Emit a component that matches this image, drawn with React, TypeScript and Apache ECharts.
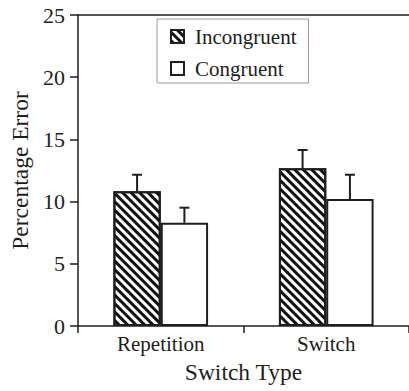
import React, { useEffect, useRef } from "react";
import * as echarts from "echarts";

const categories = ["Repetition", "Switch"];
const incongruent = [10.83, 12.68];
const incongruentErr = [12.16, 14.15];
const congruent = [8.3, 10.2];
const congruentErr = [9.51, 12.16];
const yTicks = [0, 25, 5];

const FONT = '"Liberation Serif"';
const INK = "#1e1e1e";

export default function App() {
  const ref = useRef<HTMLDivElement>(null);
  useEffect(() => {
    if (!ref.current) return;
    const chart = echarts.init(ref.current, null, { renderer: "svg" });
    const barFrac = 0.286;
    const errSeries = (vals: number[], tops: number[], side: number) => ({
      type: "custom",
      name: side < 0 ? "errI" : "errC",
      data: vals.map((v, i) => [i, v, tops[i]]),
      z: 5,
      silent: true,
      renderItem: (params: any, api: any) => {
        const i = api.value(0);
        const base = api.coord([i, api.value(1)]);
        const top = api.coord([i, api.value(2)]);
        const band = api.size([1, 0])[0];
        const x = base[0] + side * band * barFrac / 2;
        const cap = 5;
        const style = { stroke: INK, lineWidth: 2 };
        return {
          type: "group",
          children: [
            { type: "line", shape: { x1: x, y1: base[1], x2: x, y2: top[1] }, style },
            { type: "line", shape: { x1: x - cap, y1: top[1], x2: x + cap, y2: top[1] }, style },
          ],
        };
      },
    });
    chart.setOption({
      animation: false,
      backgroundColor: "#fff",
      textStyle: { fontFamily: FONT, color: INK },
      grid: {
        left: 77,
        top: 15,
        bottom: 65,
        right: -4,
      },
      legend: {
        orient: "vertical",
        left: 157,
        top: 19,
        padding: [7, 12, 4, 13],
        borderColor: "#999",
        borderWidth: 1,
        itemWidth: 13,
        itemHeight: 13,
        itemGap: 11,
        icon: "rect",
        data: ["Incongruent", "Congruent"],
        textStyle: { fontFamily: FONT, fontSize: 21, color: INK, padding: [0, 0, 0, 6] },
      },
      xAxis: [
        {
          type: "category",
          data: categories,
          name: "Switch Type",
          nameLocation: "middle",
          nameGap: 34,
          nameTextStyle: { fontFamily: FONT, fontSize: 23.5, color: INK },
          axisLine: { lineStyle: { color: INK, width: 1.5 } },
          axisTick: { show: true, length: 7, lineStyle: { color: INK, width: 1.5 } },
          axisLabel: { fontFamily: FONT, fontSize: 21, color: INK, margin: 7 },
        },
        {
          type: "category",
          data: categories,
          position: "top",
          axisLine: { show: true, lineStyle: { color: INK, width: 1.5 } },
          axisTick: { show: false },
          axisLabel: { show: false },
        },
      ],
      yAxis: {
        type: "value",
        min: yTicks[0],
        max: yTicks[1],
        interval: yTicks[2],
        name: "Percentage Error",
        nameLocation: "middle",
        nameGap: 46,
        nameTextStyle: { fontFamily: FONT, fontSize: 23.5, color: INK },
        splitLine: { show: false },
        axisLine: { show: true, lineStyle: { color: INK, width: 1.5 } },
        axisTick: { show: true, length: 8, lineStyle: { color: INK, width: 1.5 } },
        axisLabel: { fontFamily: FONT, fontSize: 22, color: INK, margin: 13 },
      },
      series: [
        {
          type: "bar",
          name: "Incongruent",
          data: incongruent,
          barWidth: "28.6%",
          barGap: "0%",
          itemStyle: {
            color: "#fff",
            borderColor: INK,
            borderWidth: 2,
            decal: {
              symbol: "rect",
              symbolSize: 1,
              color: "#111",
              dashArrayX: [1, 0],
              dashArrayY: [2.6, 2.4],
              rotation: Math.PI / 4,
            },
          },
        },
        {
          type: "bar",
          name: "Congruent",
          data: congruent,
          barWidth: "28.6%",
          barGap: "0%",
          itemStyle: { color: "#fff", borderColor: INK, borderWidth: 2 },
        },
        errSeries(incongruent, incongruentErr, -1),
        errSeries(congruent, congruentErr, 1),
      ],
    });
    return () => chart.dispose();
  }, []);
  return <div ref={ref} style={{ position: "fixed", left: 0, top: 0, width: 409, height: 391 }} />;
}
